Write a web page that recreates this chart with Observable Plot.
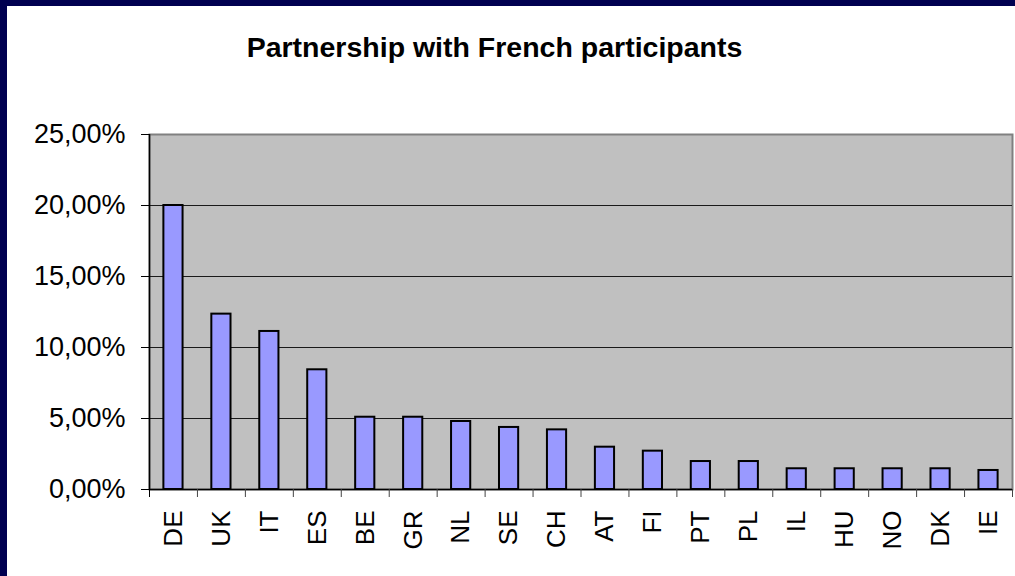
<!DOCTYPE html>
<html>
<head>
<meta charset="utf-8">
<script src="https://cdn.jsdelivr.net/npm/d3@7"></script>
<script src="https://cdn.jsdelivr.net/npm/@observablehq/plot@0.6"></script>
<style>
  html, body { margin: 0; padding: 0; background: #fff; width: 1015px; height: 576px; overflow: hidden; }
  #wrap { position: relative; width: 1015px; height: 576px; background: #fff; overflow: hidden; font-family: "Liberation Sans", Arial, sans-serif; }
  #navyL { position: absolute; left: 0; top: 0; width: 7px; height: 576px; background: #000050; }
  #navyT { position: absolute; left: 0; top: 0; width: 1015px; height: 6px; background: #000050; }
  #title { position: absolute; left: 0; top: 32px; width: 989px; text-align: center; font-weight: bold; font-size: 28.5px; line-height: 30px; color: #000; }
  #chart { position: absolute; left: 7px; top: 90px; width: 1008px; height: 486px; }
  #chart svg { display: block; }
</style>
</head>
<body>
<div id="wrap">
  <div id="navyL"></div>
  <div id="navyT"></div>
  <div id="title">Partnership with French participants</div>
  <div id="chart"></div>
</div>
<script>
const countries = ["DE","UK","IT","ES","BE","GR","NL","SE","CH","AT","FI","PT","PL","IL","HU","NO","DK","IE"];
const shares = [20.0, 12.35, 11.13, 8.43, 5.09, 5.09, 4.79, 4.37, 4.20, 2.98, 2.70, 1.97, 1.97, 1.46, 1.46, 1.46, 1.46, 1.34];
const yTicks = [0, 5, 10, 15, 20, 25];
const gridTicks = [5, 10, 15, 20];

const data = countries.map((c, i) => ({country: c, value: shares[i]}));

const W = 1008, H = 486, ML = 142, MR = 3, MT = 44, MB = 87;
const step = (W - ML - MR) / countries.length;
const fmt = d => d.toFixed(2).replace(".", ",") + "%";
const font = "Liberation Sans, Arial, sans-serif";

const chart = Plot.plot({
  width: W, height: H,
  marginLeft: ML, marginRight: MR, marginTop: MT, marginBottom: MB,
  style: {background: "transparent", fontFamily: font, color: "#000", overflow: "visible"},
  x: {domain: countries, paddingInner: 0.6, paddingOuter: 0.3, round: false, label: null},
  y: {domain: [0, 25], label: null},
  marks: [
    Plot.frame({fill: "#c0c0c0", stroke: "#808080", strokeWidth: 2}),
    Plot.gridY(gridTicks, {stroke: "#1a1a1a", strokeOpacity: 1, strokeWidth: 1}),
    Plot.barY(data, {x: "country", y: "value", fill: "#9999ff", stroke: "#000", strokeWidth: 2}),
    Plot.ruleY([0], {stroke: "#000", strokeWidth: 1.5}),
    Plot.ruleX([countries[0]], {y1: 0, y2: 25, dx: -step / 2, stroke: "#000", strokeWidth: 1.5}),
    Plot.axisY({ticks: yTicks, tickSize: 8, tickPadding: 16, tickFormat: fmt, fontSize: 27, stroke: "#000"}),
    Plot.axisX({ticks: countries, tickSize: 8, dx: step / 2, tickFormat: () => "", label: null, stroke: "#444"}),
    Plot.axisX({ticks: [countries[0]], tickSize: 8, dx: -step / 2, tickFormat: () => "", label: null, stroke: "#000"}),
    Plot.axisX({ticks: countries, tickSize: 0, tickPadding: 21, tickRotate: -90, fontSize: 26, label: null})
  ]
});
document.getElementById("chart").appendChild(chart);
</script>
</body>
</html>
